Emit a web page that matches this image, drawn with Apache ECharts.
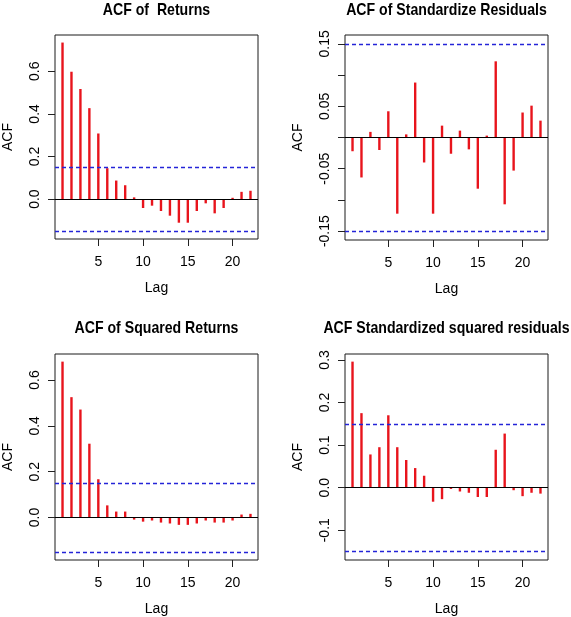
<!DOCTYPE html>
<html>
<head>
<meta charset="utf-8">
<script src="https://cdn.jsdelivr.net/npm/echarts@6/dist/echarts.min.js"></script>
<style>
html,body{margin:0;padding:0;background:#fff;}
#c{width:571px;height:617px;}
</style>
</head>
<body>
<div id="c"></div>
<script>
// ---- data ----
const lags = [1,2,3,4,5,6,7,8,9,10,11,12,13,14,15,16,17,18,19,20,21,22];
const acfReturns = [0.735,0.598,0.517,0.427,0.308,0.145,0.087,0.065,0.008,-0.042,-0.031,-0.056,-0.078,-0.111,-0.111,-0.056,-0.020,-0.067,-0.042,0.006,0.034,0.039];
const acfStdResid = [-0.022,-0.064,0.009,-0.020,0.042,-0.122,0.005,0.088,-0.040,-0.122,0.019,-0.026,0.011,-0.019,-0.082,0.003,0.122,-0.107,-0.053,0.040,0.051,0.027];
const acfSqReturns = [0.680,0.525,0.471,0.322,0.167,0.053,0.026,0.026,-0.009,-0.018,-0.013,-0.022,-0.026,-0.032,-0.032,-0.026,-0.013,-0.022,-0.022,-0.013,0.013,0.016];
const acfStdSqResid = [0.296,0.175,0.078,0.095,0.170,0.095,0.065,0.046,0.028,-0.033,-0.027,-0.003,-0.009,-0.012,-0.022,-0.022,0.089,0.127,-0.006,-0.020,-0.012,-0.014];
const confLimit = 0.152;
const titles = ["ACF of  Returns","ACF of Standardize Residuals","ACF of Squared Returns","ACF Standardized squared residuals"];
const xTickValues = [5,10,15,20];
const yTicks1 = [0,0.2,0.4,0.6];
const yTicks2 = [-0.15,-0.10,-0.05,0,0.05,0.10,0.15];
const yLabels2 = [-0.15,-0.05,0.05,0.15];
const yTicks3 = [0,0.2,0.4,0.6];
const yTicks4 = [-0.1,0,0.1,0.2,0.3];

// ---- layout ----
const FONT = "'Liberation Sans',Arial,sans-serif";
const panels = [
  {data: acfReturns, ticks: yTicks1, labels: yTicks1, dec: 1, left: 55, top: 35, width: 203, height: 204, titleY: 10},
  {data: acfStdResid, ticks: yTicks2, labels: yLabels2, dec: 2, left: 345, top: 35, width: 203, height: 205, titleY: 10},
  {data: acfSqReturns, ticks: yTicks3, labels: yTicks3, dec: 1, left: 55, top: 354, width: 203, height: 207, titleY: 328},
  {data: acfStdSqResid, ticks: yTicks4, labels: yTicks4, dec: 1, left: 345, top: 354, width: 203, height: 207, titleY: 328}
];

const xMin = lags[0] - 0.04*(lags[lags.length-1]-lags[0]);
const xMax = lags[lags.length-1] + 0.04*(lags[lags.length-1]-lags[0]);

const grid=[], xAxis=[], yAxis=[], series=[], graphic=[];
panels.forEach((p,i)=>{
  const lo = Math.min(Math.min(...p.data), -confLimit);
  const hi = Math.max(Math.max(...p.data), confLimit);
  const pad = 0.04*(hi-lo);
  grid.push({left:p.left, top:p.top, width:p.width, height:p.height, show:true, borderColor:'#1a1a1a', borderWidth:1, backgroundColor:'transparent'});
  graphic.push({type:'text', x: p.left + p.width/2, y: p.titleY, scaleX:0.83, silent:true,
    style:{text: titles[i], fill:'#000', font:"bold 17px 'Liberation Sans',Arial,sans-serif", textAlign:'center', textVerticalAlign:'middle'}});
  xAxis.push({gridIndex:i, type:'value', min:xMin, max:xMax,
    name:'Lag', nameLocation:'middle', nameGap:42,
    nameTextStyle:{fontFamily:FONT, fontSize:14, color:'#000'},
    axisLine:{show:false, onZero:false},
    axisTick:{show:true, inside:false, length:7, customValues:xTickValues, lineStyle:{color:'#222'}},
    axisLabel:{show:true, customValues:xTickValues, margin:16, fontFamily:FONT, fontSize:14, color:'#000'},
    splitLine:{show:false}});
  yAxis.push({gridIndex:i, type:'value', min:lo-pad, max:hi+pad,
    name:'ACF', nameLocation:'middle', nameGap:40,
    nameTextStyle:{fontFamily:FONT, fontSize:14, color:'#000'},
    axisLine:{show:false, onZero:false},
    axisTick:{show:true, inside:false, length:7, customValues:p.ticks, lineStyle:{color:'#222'}},
    axisLabel:{show:true, customValues:p.labels, rotate:90, margin:13, fontFamily:FONT, fontSize:14, color:'#000',
      formatter:(v)=>Number(v).toFixed(p.dec)},
    splitLine:{show:false}});
  series.push({type:'bar', xAxisIndex:i, yAxisIndex:i, barWidth:2.4,
    itemStyle:{color:'#e8141c'},
    data: lags.map((l,k)=>[l, p.data[k]]),
    silent:true, animation:false, z:2,
    markLine:{silent:true, symbol:['none','none'], label:{show:false}, animation:false,
      lineStyle:{color:'#2424d8', width:1.3, type:[4,3]},
      data:[
        {yAxis:0, lineStyle:{color:'#000', width:1.2, type:'solid'}},
        {yAxis:confLimit, lineStyle:{color:'#2424d8', width:1.3, type:[4,3]}},
        {yAxis:-confLimit, lineStyle:{color:'#2424d8', width:1.3, type:[4,3]}}
      ]}
  });
});

const chart = echarts.init(document.getElementById('c'), null, {renderer:'canvas'});
chart.setOption({animation:false, backgroundColor:'#fff', grid, xAxis, yAxis, series, graphic});
</script>
</body>
</html>
